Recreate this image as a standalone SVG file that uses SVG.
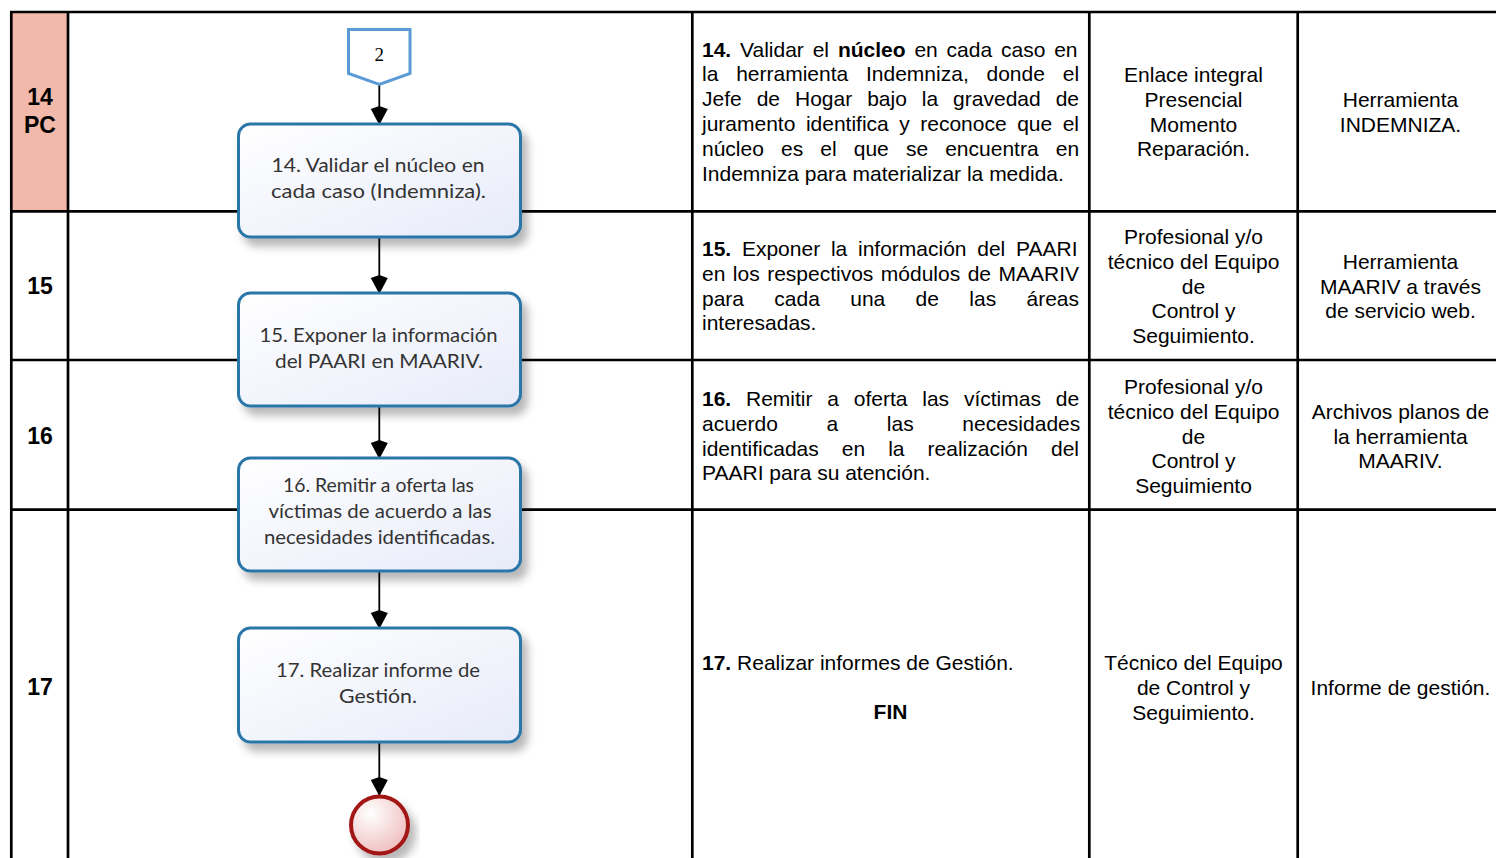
<svg xmlns="http://www.w3.org/2000/svg" width="1496" height="858" viewBox="0 0 1496 858">
<style>
.grid{stroke:#000;stroke-width:2.7;fill:none}
.t{font-family:"Liberation Sans",Arial,sans-serif;font-size:21px;fill:#000}
.b{font-weight:bold}
.c{text-anchor:middle}
.num{font-family:"Liberation Sans",Arial,sans-serif;font-size:23px;font-weight:bold;text-anchor:middle;fill:#000}
.box{fill:url(#boxg);stroke:#2C76A8;stroke-width:3}
.bt{font-family:Lato,"Noto Sans",sans-serif;font-size:19px;fill:#333;text-anchor:middle}
.conn{stroke:#000;stroke-width:1.8;fill:none;marker-end:url(#ah)}
</style>
<defs>
<linearGradient id="boxg" x1="0" y1="0" x2="1" y2="1">
<stop offset="0" stop-color="#FFFFFF"/>
<stop offset="1" stop-color="#E7EBF9"/>
</linearGradient>
<radialGradient id="endg" cx="0.35" cy="0.3" r="0.8">
<stop offset="0" stop-color="#FFFFFF"/>
<stop offset="1" stop-color="#EDB9B9"/>
</radialGradient>
<filter id="sh" x="-10%" y="-10%" width="130%" height="140%">
<feDropShadow dx="6" dy="8" stdDeviation="4" flood-color="#000" flood-opacity="0.28"/>
</filter>
<marker id="ah" markerWidth="24" markerHeight="24" viewBox="-22 -12 24 24" refX="0" refY="0" orient="auto" markerUnits="userSpaceOnUse">
<path d="M0,0 L-16,-8.5 L-19,0 L-16,8.5 Z" fill="#000"/>
</marker>
</defs>
<rect width="1496" height="858" fill="#fff"/>

<!-- table -->
<g id="table">
<rect x="11.3" y="12" width="56.7" height="199.3" fill="#F2B8A9"/>
<line class="grid" x1="10" y1="12" x2="1496" y2="12"/>
<line class="grid" x1="11.3" y1="12" x2="11.3" y2="858"/>
<line class="grid" x1="68" y1="12" x2="68" y2="858"/>
<line class="grid" x1="692.3" y1="12" x2="692.3" y2="858"/>
<line class="grid" x1="1089.3" y1="12" x2="1089.3" y2="858"/>
<line class="grid" x1="1297.7" y1="12" x2="1297.7" y2="858"/>
<line class="grid" x1="10" y1="211.3" x2="1496" y2="211.3"/>
<line class="grid" x1="10" y1="360" x2="1496" y2="360"/>
<line class="grid" x1="10" y1="509.7" x2="1496" y2="509.7"/>
</g>

<g id="row-numbers">
<text class="num" x="40" y="105">14</text>
<text class="num" x="40" y="133">PC</text>
<text class="num" x="40" y="294">15</text>
<text class="num" x="40" y="444">16</text>
<text class="num" x="40" y="695">17</text>
</g>

<!-- connectors -->
<g id="connectors">
<line class="conn" x1="379.3" y1="85" x2="379.3" y2="125"/>
<line class="conn" x1="379.3" y1="237" x2="379.3" y2="294"/>
<line class="conn" x1="379.3" y1="406" x2="379.3" y2="459"/>
<line class="conn" x1="379.3" y1="571" x2="379.3" y2="629"/>
<line class="conn" x1="379.3" y1="742" x2="379.3" y2="796"/>
</g>

<g id="node-offpage-2">
<path d="M348.5,29.5 L410,29.5 L410,73.5 L379.3,84.5 L348.5,73.5 Z" fill="#fff" stroke="#5B9BD5" stroke-width="3"/>
<text x="379.3" y="60.5" font-family="'Liberation Serif','DejaVu Serif',serif" font-size="19" text-anchor="middle" fill="#000">2</text>
</g>

<g id="node-14">
<rect class="box" x="238.5" y="124" width="282" height="113" rx="12" filter="url(#sh)"/>
<text class="bt" x="378" y="172" textLength="213" lengthAdjust="spacingAndGlyphs">14. Validar el núcleo en</text>
<text class="bt" x="378.5" y="198" textLength="215" lengthAdjust="spacingAndGlyphs">cada caso (Indemniza).</text>
</g>

<g id="node-15">
<rect class="box" x="238.5" y="293" width="282" height="113" rx="12" filter="url(#sh)"/>
<text class="bt" x="378.5" y="342" textLength="238" lengthAdjust="spacingAndGlyphs">15. Exponer la información</text>
<text class="bt" x="379" y="368" textLength="208" lengthAdjust="spacingAndGlyphs">del PAARI en MAARIV.</text>
</g>

<g id="node-16">
<rect class="box" x="238.5" y="458" width="282" height="113" rx="12" filter="url(#sh)"/>
<text class="bt" x="378.5" y="492" textLength="191" lengthAdjust="spacingAndGlyphs">16. Remitir a oferta las</text>
<text class="bt" x="380" y="518" textLength="223" lengthAdjust="spacingAndGlyphs">víctimas de acuerdo a las</text>
<text class="bt" x="379.5" y="544" textLength="231" lengthAdjust="spacingAndGlyphs">necesidades identificadas.</text>
</g>

<g id="node-17">
<rect class="box" x="238.5" y="628" width="282" height="114" rx="12" filter="url(#sh)"/>
<text class="bt" x="378" y="677" textLength="204" lengthAdjust="spacingAndGlyphs">17. Realizar informe de</text>
<text class="bt" x="378" y="703" textLength="78" lengthAdjust="spacingAndGlyphs">Gestión.</text>
</g>

<g id="node-end">
<circle cx="379.5" cy="825" r="28.5" fill="url(#endg)" stroke="#A31818" stroke-width="4" filter="url(#sh)"/>
</g>

<!-- descriptions -->
<g id="desc-14">
<text class="t" x="702" y="56.5" word-spacing="3"><tspan class="b">14.</tspan> Validar el <tspan class="b">núcleo</tspan> en cada caso en</text>
<text class="t" x="702" y="81.3" word-spacing="11.96">la herramienta Indemniza, donde el</text>
<text class="t" x="702" y="106.1" word-spacing="9.13">Jefe de Hogar bajo la gravedad de</text>
<text class="t" x="702" y="130.9" word-spacing="4.66">juramento identifica y reconoce que el</text>
<text class="t" x="702" y="155.7" word-spacing="11.28">núcleo es el que se encuentra en</text>
<text class="t" x="702" y="180.5">Indemniza para materializar la medida.</text>
</g>
<g id="desc-15">
<text class="t" x="702" y="256" word-spacing="4.9"><tspan class="b">15.</tspan> Exponer la información del PAARI</text>
<text class="t" x="702" y="280.8" word-spacing="1.64">en los respectivos módulos de MAARIV</text>
<text class="t" x="702" y="305.6" word-spacing="24.5">para cada una de las áreas</text>
<text class="t" x="702" y="330.4">interesadas.</text>
</g>
<g id="desc-16">
<text class="t" x="702" y="406" word-spacing="8.96"><tspan class="b">16.</tspan> Remitir a oferta las víctimas de</text>
<text class="t" x="702" y="430.8" word-spacing="42.8">acuerdo a las necesidades</text>
<text class="t" x="702" y="455.6" word-spacing="17.2">identificadas en la realización del</text>
<text class="t" x="702" y="480.4">PAARI para su atención.</text>
</g>
<g id="desc-17">
<text class="t" x="702" y="670"><tspan class="b">17.</tspan> Realizar informes de Gestión.</text>
<text class="t b c" x="890.5" y="719">FIN</text>
</g>

<g id="resp">
<text class="t c" x="1193.5" y="82"><tspan x="1193.5">Enlace integral</tspan><tspan x="1193.5" dy="24.8">Presencial</tspan><tspan x="1193.5" dy="24.8">Momento</tspan><tspan x="1193.5" dy="24.8">Reparación.</tspan></text>
<text class="t c" x="1193.5" y="244"><tspan x="1193.5">Profesional y/o</tspan><tspan x="1193.5" dy="24.8">técnico del Equipo</tspan><tspan x="1193.5" dy="24.8">de</tspan><tspan x="1193.5" dy="24.8">Control y</tspan><tspan x="1193.5" dy="24.8">Seguimiento.</tspan></text>
<text class="t c" x="1193.5" y="394"><tspan x="1193.5">Profesional y/o</tspan><tspan x="1193.5" dy="24.8">técnico del Equipo</tspan><tspan x="1193.5" dy="24.8">de</tspan><tspan x="1193.5" dy="24.8">Control y</tspan><tspan x="1193.5" dy="24.8">Seguimiento</tspan></text>
<text class="t c" x="1193.5" y="670"><tspan x="1193.5">Técnico del Equipo</tspan><tspan x="1193.5" dy="24.8">de Control y</tspan><tspan x="1193.5" dy="24.8">Seguimiento.</tspan></text>
</g>

<g id="tools">
<text class="t c" x="1400.5" y="106.8"><tspan x="1400.5">Herramienta</tspan><tspan x="1400.5" dy="24.8">INDEMNIZA.</tspan></text>
<text class="t c" x="1400.5" y="268.8"><tspan x="1400.5">Herramienta</tspan><tspan x="1400.5" dy="24.8">MAARIV a través</tspan><tspan x="1400.5" dy="24.8">de servicio web.</tspan></text>
<text class="t c" x="1400.5" y="418.8"><tspan x="1400.5">Archivos planos de</tspan><tspan x="1400.5" dy="24.8">la herramienta</tspan><tspan x="1400.5" dy="24.8">MAARIV.</tspan></text>
<text class="t c" x="1400.5" y="694.8">Informe de gestión.</text>
</g>
</svg>
